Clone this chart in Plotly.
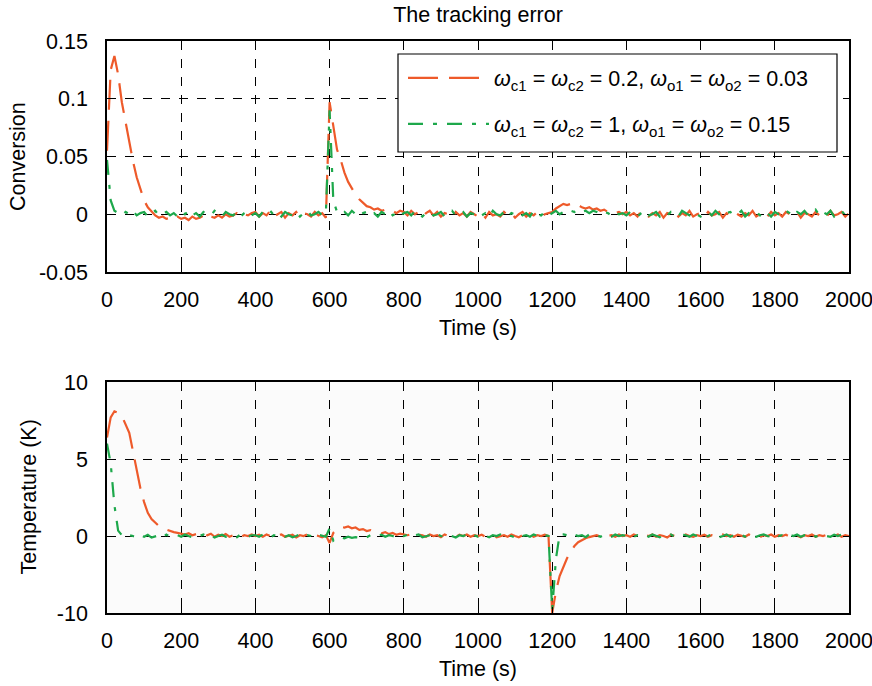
import numpy as np
import plotly.graph_objects as go

# ---------------- data (time grid every 10 s) ----------------
time_s = np.arange(0, 2001, 10)

conv_slow = [
    0.055, 0.125, 0.137, 0.121, 0.097, 0.079, 0.062, 0.046, 0.032, 0.021, 0.012, 0.006, 0.002, -0.001, -0.003, -0.002, -0.004, -0.003, -0.005, -0.002,
    -0.004, -0.003, -0.005, -0.002, -0.004, -0.003, -0.001, -0.004, -0.002, -0.003, -0.001, -0.003, 0.000, -0.002, -0.001, 0.001, -0.002, 0.000, -0.001, 0.001,
    0.002, -0.002, 0.001, -0.001, 0.003, -0.002, 0.000, 0.002, -0.003, 0.001, -0.001, 0.002, -0.002, 0.001, 0.000, -0.002, 0.002, -0.001, 0.001, -0.003,
    0.097, 0.075, 0.056, 0.047, 0.036, 0.028, 0.022, 0.017, 0.013, 0.010, 0.007, 0.006, 0.004, 0.005, 0.003, 0.004, 0.002, 0.003, 0.001, 0.003,
    0.002, -0.001, 0.003, 0.000, 0.002, -0.002, 0.001, 0.003, -0.001, 0.002, -0.002, 0.001, 0.000, -0.003, 0.002, -0.001, 0.001, -0.002, 0.002, 0.000,
    -0.002, 0.001, -0.003, 0.002, -0.001, 0.000, -0.002, 0.002, -0.001, 0.001, -0.003, 0.000, 0.002, -0.002, 0.001, -0.001, 0.002, -0.002, 0.000, 0.001,
    0.002, 0.005, 0.007, 0.009, 0.008, 0.009, 0.007, 0.008, 0.006, 0.005, 0.006, 0.004, 0.005, 0.003, 0.004, 0.002, 0.003, 0.001, 0.002, 0.000,
    0.002, -0.001, 0.001, -0.002, 0.003, 0.000, -0.002, 0.001, -0.001, 0.002, -0.003, 0.001, 0.000, 0.002, -0.002, 0.001, -0.001, 0.003, -0.002, 0.000,
    0.001, -0.002, 0.002, -0.001, 0.000, 0.002, -0.003, 0.001, -0.001, 0.002, 0.000, -0.002, 0.001, -0.001, 0.003, -0.002, 0.000, 0.001, -0.002, 0.002,
    -0.001, 0.001, -0.002, 0.002, 0.000, -0.001, 0.002, -0.003, 0.001, 0.000, -0.002, 0.002, -0.001, 0.001, -0.002, 0.003, -0.001, 0.000, 0.002, -0.002, 0.001,
]

conv_fast = [
    0.047, 0.012, 0.003, 0.001, -0.001, 0.002, 0.000, 0.003, -0.001, 0.001, 0.002, -0.002, 0.001, 0.003, -0.001, 0.000, 0.002, -0.001, 0.001, -0.002,
    0.002, 0.000, 0.003, -0.001, 0.001, -0.002, 0.002, 0.000, -0.001, 0.003, 0.001, -0.002, 0.002, 0.000, -0.001, 0.002, -0.002, 0.001, 0.003, -0.001,
    0.001, -0.002, 0.002, 0.000, 0.003, -0.001, 0.001, -0.002, 0.002, 0.000, -0.001, 0.002, -0.002, 0.001, 0.003, -0.001, 0.000, 0.002, -0.001, 0.001,
    0.090, 0.012, 0.002, 0.000, 0.002, -0.001, 0.003, 0.000, -0.002, 0.001, 0.002, -0.001, 0.001, -0.002, 0.002, 0.000, 0.003, -0.001, 0.001, -0.002,
    0.001, 0.002, -0.001, 0.003, 0.000, -0.002, 0.001, 0.002, -0.001, 0.000, 0.002, -0.002, 0.001, 0.003, -0.001, 0.000, 0.002, -0.002, 0.001, 0.000,
    0.002, -0.001, 0.001, -0.002, 0.003, 0.000, -0.001, 0.002, -0.002, 0.001, 0.000, 0.002, -0.001, 0.001, -0.002, 0.003, 0.000, -0.001, 0.002, -0.001,
    0.001, 0.003, 0.000, 0.002, 0.001, 0.003, 0.002, 0.004, 0.002, 0.003, 0.001, 0.003, 0.002, 0.000, 0.002, 0.001, -0.001, 0.002, 0.000, 0.001,
    -0.001, 0.002, 0.000, -0.002, 0.001, 0.003, -0.001, 0.000, 0.002, -0.002, 0.001, -0.001, 0.002, 0.000, -0.002, 0.003, 0.001, -0.001, 0.002, 0.000,
    -0.002, 0.001, 0.002, -0.001, 0.003, 0.000, -0.002, 0.001, 0.002, -0.001, 0.000, 0.003, -0.002, 0.001, 0.000, 0.002, -0.001, 0.003, 0.001, -0.002,
    0.002, 0.000, -0.001, 0.003, 0.001, -0.002, 0.002, 0.000, 0.003, -0.001, 0.001, 0.004, -0.001, 0.002, 0.000, 0.003, -0.002, 0.001, 0.003, -0.001, 0.002,
]

temp_slow = [
    6.4, 7.7, 8.1, 8.0, 7.8, 7.3, 6.7, 5.5, 4.3, 3.1, 2.2, 1.5, 1.1, 0.85, 0.65, 0.5, 0.4, 0.32, 0.25, 0.2,
    0.15, 0.1, 0.18, 0.05, 0.12, 0.0, 0.1, 0.05, 0.15, -0.05, 0.08, 0.0, 0.12, -0.05, 0.05, 0.1, -0.08, 0.05, 0.0, 0.1,
    0.0, 0.08, -0.05, 0.1, 0.0, -0.08, 0.05, 0.1, -0.05, 0.0, 0.08, -0.1, 0.05, 0.0, 0.1, -0.05, 0.05, 0.0, -0.08, 0.05,
    -0.45, 0.2, 0.45, 0.6, 0.55, 0.62, 0.5, 0.55, 0.4, 0.45, 0.32, 0.38, 0.25, 0.3, 0.18, 0.25, 0.12, 0.2, 0.08, 0.15,
    0.1, 0.05, 0.12, 0.0, 0.08, 0.05, -0.05, 0.1, 0.0, 0.05, -0.08, 0.1, 0.0, 0.05, -0.05, 0.08, 0.0, 0.1, -0.05, 0.05,
    0.0, 0.08, -0.05, 0.05, 0.1, -0.08, 0.0, 0.05, -0.05, 0.1, 0.0, -0.08, 0.05, 0.0, 0.1, -0.05, 0.05, 0.0, 0.08, 0.0,
    -5.0, -3.6, -2.6, -2.0, -1.45, -1.0, -0.65, -0.4, -0.25, -0.15, -0.07, 0.0, 0.05, -0.05, 0.08, 0.0, 0.05, -0.05, 0.1, 0.0,
    0.05, -0.05, 0.1, 0.0, -0.08, 0.05, 0.0, 0.1, -0.05, 0.05, 0.0, -0.1, 0.08, 0.0, 0.05, -0.05, 0.1, 0.0, -0.05, 0.05,
    0.0, 0.08, -0.05, 0.05, 0.0, -0.08, 0.1, 0.0, 0.05, -0.05, 0.08, 0.0, -0.05, 0.1, 0.0, 0.05, -0.08, 0.05, 0.0, 0.1,
    -0.05, 0.05, 0.0, 0.08, -0.05, 0.1, 0.0, -0.08, 0.05, 0.0, 0.1, -0.05, 0.05, 0.0, 0.08, -0.05, 0.0, 0.1, -0.05, 0.05, 0.0,
]

temp_fast = [
    6.0, 4.7, 2.0, 0.35, 0.05, -0.08, 0.05, 0.0, -0.1, 0.05, -0.05, 0.08, -0.1, 0.0, 0.05, -0.08, 0.1, -0.05, 0.0, 0.05,
    -0.05, 0.1, 0.0, -0.08, 0.05, 0.0, 0.1, -0.05, 0.05, -0.1, 0.0, 0.08, -0.05, 0.05, 0.0, -0.08, 0.1, 0.0, -0.05, 0.05,
    0.05, -0.05, 0.1, 0.0, -0.1, 0.05, 0.0, 0.08, -0.05, 0.05, -0.08, 0.0, 0.1, -0.05, 0.05, 0.0, -0.1, 0.08, 0.0, -0.05,
    0.5, -0.3, -0.1, -0.1, -0.15, -0.05, -0.12, -0.08, -0.1, 0.0, -0.08, 0.05, -0.05, 0.0, 0.08, -0.05, 0.05, 0.0, -0.08, 0.05,
    0.0, 0.08, -0.05, 0.05, 0.1, -0.08, 0.0, 0.05, -0.05, 0.1, 0.0, -0.05, 0.08, 0.0, -0.1, 0.05, 0.0, 0.1, -0.05, 0.05,
    -0.05, 0.1, 0.0, -0.08, 0.05, 0.0, 0.1, -0.05, 0.05, 0.0, -0.1, 0.08, 0.0, 0.05, -0.05, 0.1, 0.0, -0.08, 0.05, 0.0,
    -4.8, -1.5, 0.1, 0.1, 0.05, -0.05, 0.1, 0.0, 0.05, -0.08, 0.1, 0.0, 0.05, -0.05, 0.08, 0.0, -0.05, 0.1, 0.0, 0.05,
    0.0, 0.1, -0.05, 0.05, 0.0, 0.08, -0.05, 0.1, 0.0, -0.08, 0.05, 0.0, 0.1, -0.05, 0.0, 0.08, 0.05, -0.05, 0.1, 0.0,
    0.05, -0.05, 0.0, 0.1, 0.05, -0.08, 0.0, 0.1, -0.05, 0.05, 0.0, 0.08, -0.05, 0.1, 0.0, -0.05, 0.05, 0.1, 0.0, -0.05,
    0.1, 0.0, 0.05, -0.05, 0.08, 0.0, 0.1, -0.05, 0.05, 0.0, 0.12, -0.05, 0.05, 0.1, 0.0, -0.05, 0.08, 0.0, 0.1, -0.05, 0.05,
]

series_names = [
    "<i>ω</i><sub>c1</sub> = <i>ω</i><sub>c2</sub> = 0.2, <i>ω</i><sub>o1</sub> = <i>ω</i><sub>o2</sub> = 0.03",
    "<i>ω</i><sub>c1</sub> = <i>ω</i><sub>c2</sub> = 1, <i>ω</i><sub>o1</sub> = <i>ω</i><sub>o2</sub> = 0.15",
]
x_ticks = [0, 200, 400, 600, 800, 1000, 1200, 1400, 1600, 1800, 2000]
conv_ticks = [-0.05, 0, 0.05, 0.1, 0.15]
conv_ticktext = ["-0.05", "0", "0.05", "0.1", "0.15"]
temp_tickvals = [-5, 0, 5, 10]
temp_ticktext = ["-10", "0", "5", "10"]
panel_titles = ["The tracking error", "Time (s)", "Conversion", "Temperature (K)"]

# ---------------- styling ----------------
RED = "#EE5A2A"
GREEN = "#1DA84B"
FONT = "Liberation Sans, Arial, sans-serif"
FS = 21.5
RED_DASH = "30px,11px"
GREEN_DASH = "15px,10px,4px,10px"
W, H = 872, 686
ML, MR, MT, MB = 107, 23, 41, 73
PW, PH = W - ML - MR, H - MT - MB

fig = go.Figure()
fig.add_trace(go.Scatter(x=time_s, y=conv_slow, mode="lines", name=series_names[0],
                         line=dict(color=RED, width=2.2, dash=RED_DASH), legendgroup="a",
                         xaxis="x", yaxis="y"))
fig.add_trace(go.Scatter(x=time_s, y=conv_fast, mode="lines", name=series_names[1],
                         line=dict(color=GREEN, width=2.2, dash=GREEN_DASH), legendgroup="b",
                         xaxis="x", yaxis="y"))
fig.add_trace(go.Scatter(x=time_s, y=temp_slow, mode="lines", showlegend=False,
                         line=dict(color=RED, width=2.2, dash=RED_DASH), xaxis="x2", yaxis="y2"))
fig.add_trace(go.Scatter(x=time_s, y=temp_fast, mode="lines", showlegend=False,
                         line=dict(color=GREEN, width=2.2, dash=GREEN_DASH), xaxis="x2", yaxis="y2"))

common_x = dict(range=[0, 2000], tickvals=x_ticks, ticks="inside", ticklen=6, tickcolor="black",
                showline=True, linecolor="black", linewidth=1.5, mirror="allticks",
                showgrid=True, gridcolor="black", griddash="dash", gridwidth=1, zeroline=False,
                automargin=False, ticklabeloverflow="allow",
                tickfont=dict(size=FS, color="black", family=FONT), ticklabelstandoff=7,
                title=dict(text=panel_titles[1], font=dict(size=FS, color="black", family=FONT), standoff=9))
common_y = dict(ticks="inside", ticklen=6, tickcolor="black",
                showline=True, linecolor="black", linewidth=1.5, mirror="allticks",
                showgrid=True, gridcolor="black", griddash="dash", gridwidth=1, zeroline=False,
                automargin=False,
                tickfont=dict(size=FS, color="black", family=FONT), ticklabelstandoff=13)

top_dom = [1 - (272 - MT) / PH, 1]
bot_dom = [0, (613 - 382) / PH]

fig.update_layout(
    width=W, height=H,
    margin=dict(l=ML, r=MR, t=MT, b=MB, autoexpand=False),
    paper_bgcolor="white", plot_bgcolor="white",
    font=dict(family=FONT, size=FS, color="black"),
    title=dict(text=panel_titles[0], x=0.5, xref="paper", xanchor="center",
               y=1 - 14 / H, yref="container", yanchor="middle",
               font=dict(size=FS, color="black", family=FONT)),
    xaxis=dict(common_x, domain=[0, 1], anchor="y"),
    yaxis=dict(common_y, domain=top_dom, anchor="x", range=[-0.05, 0.15],
               tickvals=conv_ticks, ticktext=conv_ticktext),
    xaxis2=dict(common_x, domain=[0, 1], anchor="y2"),
    yaxis2=dict(common_y, domain=bot_dom, anchor="x2", range=[-5, 10],
                tickvals=temp_tickvals, ticktext=temp_ticktext),
    legend=dict(x=(403 - ML) / PW, y=0.9712, xanchor="left", yanchor="top",
                bgcolor="rgba(0,0,0,0)", borderwidth=0,
                font=dict(size=FS, family=FONT, color="black"),
                itemwidth=81, tracegroupgap=15, traceorder="grouped"),
    showlegend=True,
    annotations=[
        dict(text=panel_titles[2], xref="paper", yref="paper", x=(18.5 - ML) / PW,
             y=sum(top_dom) / 2, xanchor="center", yanchor="middle", textangle=-90,
             showarrow=False, font=dict(size=FS, family=FONT, color="black")),
        dict(text=panel_titles[3], xref="paper", yref="paper", x=(28 - ML) / PW,
             y=sum(bot_dom) / 2, xanchor="center", yanchor="middle", textangle=-90,
             showarrow=False, font=dict(size=FS, family=FONT, color="black")),
    ],
    shapes=[
        dict(type="rect", xref="x2 domain", yref="y2 domain", x0=0, x1=1, y0=0, y1=1,
             fillcolor="#fbfbfb", line=dict(width=0), layer="below"),
        dict(type="rect", xref="paper", yref="paper",
             x0=(398 - ML) / PW, x1=(837 - ML) / PW, y0=1 - (152 - MT) / PH, y1=1 - (54 - MT) / PH,
             fillcolor="white", line=dict(color="black", width=1.2), layer="above"),
    ],
)

fig.write_html("out.html", config={"displayModeBar": False},
               post_script="document.body.style.margin='0';document.body.style.padding='0';")
